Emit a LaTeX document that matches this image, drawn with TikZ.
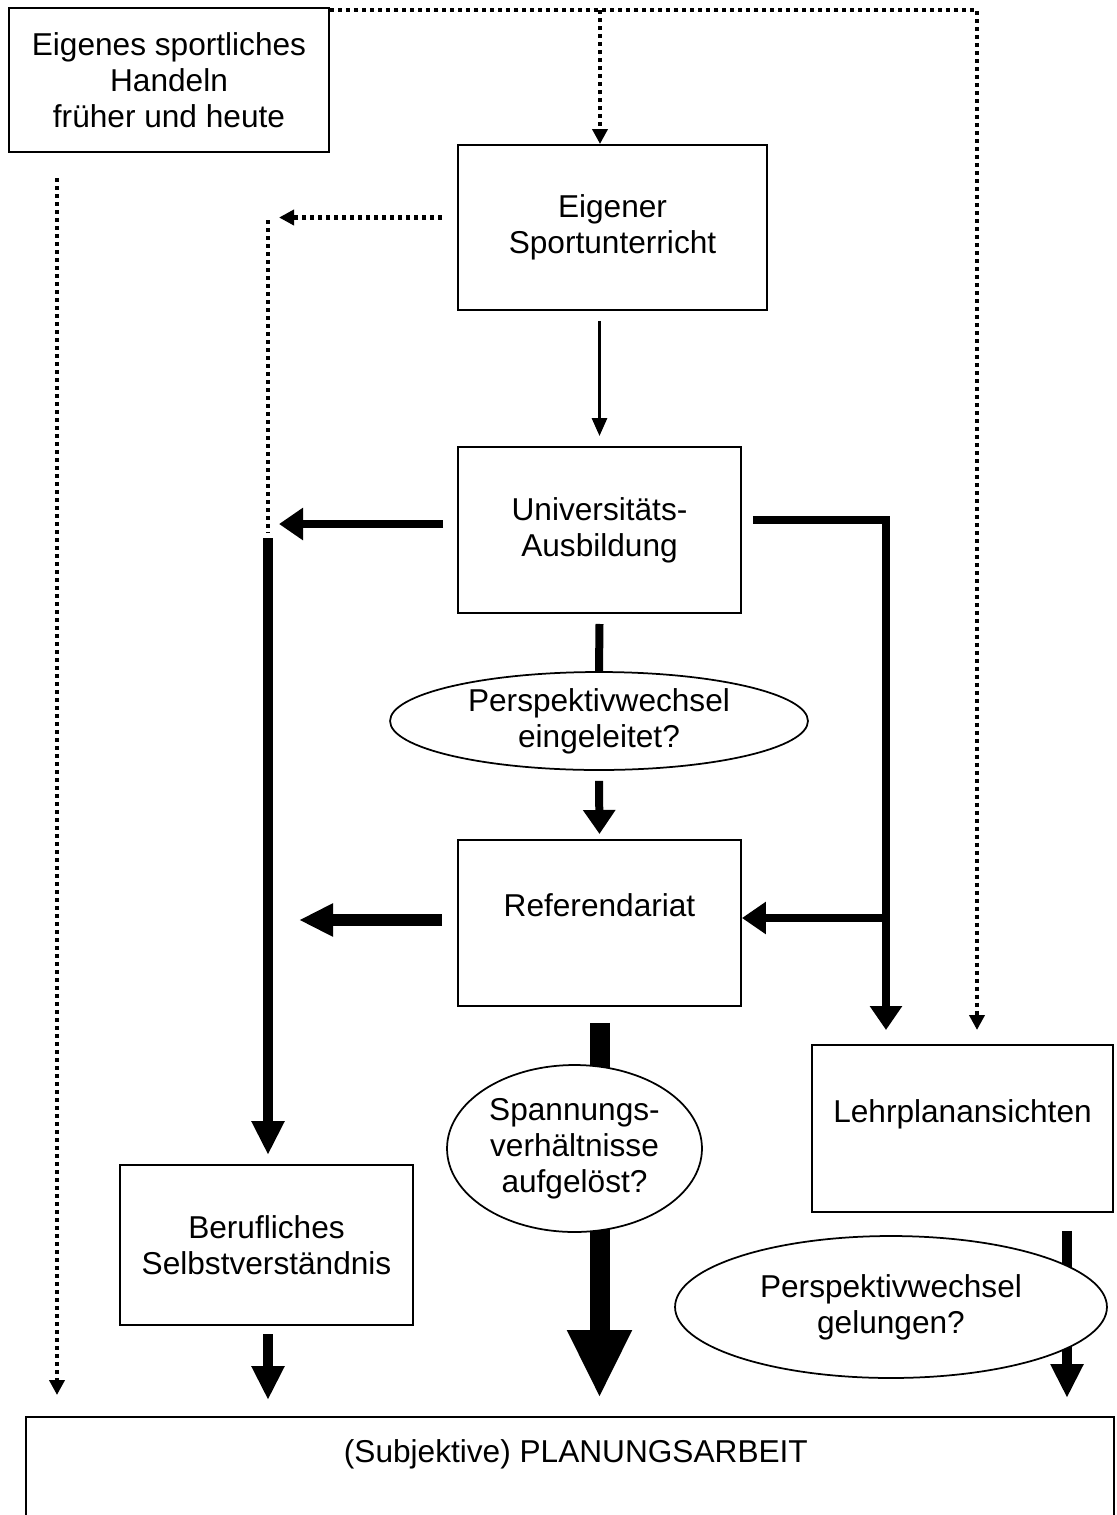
\documentclass[tikz,border=0pt]{standalone}
\usepackage{fontspec}
\setmainfont{Liberation Sans}
\usetikzlibrary{arrows.meta,shapes.geometric,calc,backgrounds}

\begin{document}
\begin{tikzpicture}[x=0.02cm,y=-0.02cm,
  font=\fontsize{18}{20.5}\selectfont,
  box/.style={draw, line width=0.04cm, fill=white, inner sep=0pt, align=center},
  oval/.style={draw, ellipse, line width=0.035cm, fill=white, inner sep=0pt, align=center},
  dotline/.style={line width=0.085cm, dash pattern=on 0.08cm off 0.08cm},
  dotarrow/.style={dotline, -{Triangle[width=0.3cm,length=0.3cm]}},
  thinarrow/.style={line width=0.06cm, -{Triangle[width=0.3cm,length=0.36cm]}},
  thickline/.style={line width=0.16cm},
  thickarrow/.style={thickline, -{Triangle[width=0.62cm,length=0.48cm]}},
  heavyarrow/.style={line width=0.2cm, -{Triangle[width=0.62cm,length=0.68cm]}},
  hugearrow/.style={line width=0.4cm, -{Triangle[width=1.2cm,length=1.36cm]}}
]
\useasboundingbox (0,0) rectangle (1116,1515);

% boxes
\node[box, minimum width=6.4cm, minimum height=2.88cm] (hand) at (169,80)
  {Eigenes sportliches\\Handeln\\früher und heute};
\node[box, minimum width=6.18cm, minimum height=3.3cm] (unt) at (612.5,227.5)
  {Eigener\\Sportunterricht};
\node[box, minimum width=5.66cm, minimum height=3.32cm] (uni) at (599.5,530)
  {Universitäts-\\Ausbildung};
\node[box, minimum width=5.66cm, minimum height=3.32cm, text depth=0.7cm] (ref) at (599.5,923)
  {Referendariat};
\node[box, minimum width=5.86cm, minimum height=3.2cm] (beruf) at (266.5,1245)
  {Berufliches\\Selbstverständnis};
\node[box, minimum width=6.02cm, minimum height=3.34cm, text depth=0.68cm] (lehr) at (962.5,1128.5)
  {Lehrplanansichten};
\node[box, anchor=north west, minimum width=21.76cm, minimum height=3cm] (plan) at (25,1416) {};
\node[anchor=north, inner sep=0pt] (plantext) at ($(plan.north)+(6,23)$)
  {(Subjektive) PLANUNGSARBEIT};

% question ovals
\node[oval, minimum width=8.36cm, minimum height=1.96cm] (pw1) at (599,721)
  {Perspektivwechsel\\eingeleitet?};
\node[oval, minimum width=5.1cm, minimum height=3.34cm] (span) at (574.5,1148.5)
  {Spannungs-\\verhältnisse\\aufgelöst?};
\node[oval, minimum width=8.64cm, minimum height=2.84cm] (pw2) at (891,1307)
  {Perspektivwechsel\\gelungen?};

% free ends of the connectors
\coordinate (topR) at (977,10);
\coordinate (topM) at (600,10);
\coordinate (lehrDot) at (977,1030);
\coordinate (leftTop) at (57,178);
\coordinate (leftBot) at (57,1395);
\coordinate (midTop) at (268,220);
\coordinate (midMid) at (268,532);
\coordinate (midLow) at (268,538);
\coordinate (midEnd) at (268,1155);
\coordinate (rBend) at (886,520);
\coordinate (rJoin) at (886,918);
\coordinate (rEnd) at (886,1030);

\begin{scope}[on background layer]
  % dotted influences
  \draw[dotarrow] ($(hand.east |- topR)$) -- (topR) -- (lehrDot);
  \draw[dotarrow] (topM) -- (topM |- unt.north);
  \draw[dotarrow] (leftTop) -- (leftBot);
  \draw[dotarrow] ($(unt.west)+(-15,-10)$) -- ($(unt.west)+(-178,-10)$);
  \draw[dotline] (midTop) -- (midMid);

  % thin step
  \draw[thinarrow] ($(uni.north |- unt.south)+(0,10)$) -- ($(uni.north)+(0,-10)$);

  % thick connections
  \draw[thickarrow] ($(uni.west)+(-14,-6)$) -- ($(uni.west)+(-178,-6)$);
  \draw[thickarrow] ($(uni.east)+(11,-10)$) -- (rBend) -- (rEnd);
  \draw[thickarrow] (rJoin) -- ($(ref.east)+(0,-5)$);
  \draw[heavyarrow] (midLow) -- (midEnd);
  \draw[thickline] ($(uni.south)+(0,10)$) -- (pw1.north);
  \draw[thickarrow] ($(pw1.south)+(0,10)$) -- ($(ref.north)+(0,-5)$);
  \draw[heavyarrow, line width=0.23cm] ($(ref.west)+(-15,-3)$) -- ($(ref.west)+(-158,-3)$);
  \draw[line width=0.4cm] ($(ref.south)+(0,16)$) -- ($(ref.south)+(0,70)$);
  \draw[hugearrow] ($(ref.south)+(0,220)$) -- ($(ref.south |- plan.north)+(0,-18)$);
  \draw[heavyarrow] ($(beruf.south)+(1.5,8)$) -- ($(beruf.south |- plan.north)+(1.5,-16)$);
  \draw[heavyarrow] ($(lehr.south)+(104.5,18)$) -- ($(lehr.south |- plan.north)+(104.5,-18)$);
\end{scope}
\end{tikzpicture}
\end{document}
